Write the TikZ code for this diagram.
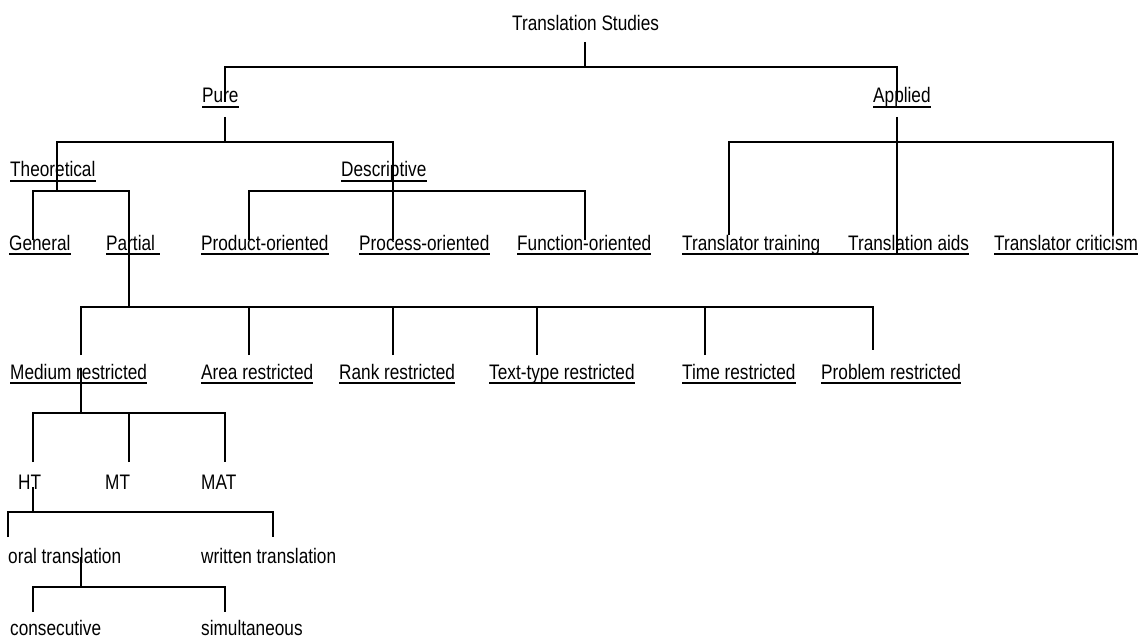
\documentclass[tikz,border=0pt]{standalone}
\usepackage{fontspec}
\setmainfont{Liberation Sans}
\usepackage{graphicx}
\newcommand\nw[1]{\scalebox{0.82}[1]{#1}}
\newcommand\ulab[1]{\draw[ul] ([yshift=-4pt]#1.base west) -- ([yshift=-4pt]#1.base east);}
\begin{document}
\begin{tikzpicture}[x=1pt,y=-1pt,
  lbl/.style={anchor=base west, inner sep=0pt, font=\fontsize{21}{25}\selectfont},
  conn/.style={line width=2.5pt},
  ul/.style={line width=2pt}]
\useasboundingbox (0,0) rectangle (1145,639);
% labels
\node[lbl] (ts) at (512,31) {\nw{Translation Studies}};
\node[lbl] (pure) at (202,103) {\nw{Pure}};
\node[lbl] (applied) at (873,103) {\nw{Applied}};
\node[lbl] (theo) at (10,177) {\nw{Theoretical}};
\node[lbl] (desc) at (341,177) {\nw{Descriptive}};
\node[lbl] (gen) at (9,250) {\nw{General}};
\node[lbl] (part) at (106,250) {\nw{Partial\ }};
\node[lbl] (prod) at (201,250) {\nw{Product-oriented}};
\node[lbl] (proc) at (359,250) {\nw{Process-oriented}};
\node[lbl] (func) at (517,250) {\nw{Function-oriented}};
\node[lbl] (ttrain) at (682,250) {\nw{Translator training}};
\node[lbl] (taids) at (848,250) {\nw{Translation aids}};
\node[lbl] (tcrit) at (994,250) {\nw{Translator criticism}};
\node[lbl] (med) at (10,379) {\nw{Medium restricted}};
\node[lbl] (area) at (201,379) {\nw{Area restricted}};
\node[lbl] (rank) at (339,379) {\nw{Rank restricted}};
\node[lbl] (ttype) at (489,379) {\nw{Text-type restricted}};
\node[lbl] (time) at (682,379) {\nw{Time restricted}};
\node[lbl] (prob) at (821,379) {\nw{Problem restricted}};
\node[lbl] (ht) at (18,489) {\nw{HT}};
\node[lbl] (mt) at (105,489) {\nw{MT}};
\node[lbl] (mat) at (201,489) {\nw{MAT}};
\node[lbl] (oral) at (8,563) {\nw{oral translation}};
\node[lbl] (written) at (201,563) {\nw{written translation}};
\node[lbl] (cons) at (10,635) {\nw{consecutive}};
\node[lbl] (simul) at (201,635) {\nw{simultaneous}};
% underlines
\foreach \n in {pure,applied,theo,desc,gen,part,prod,proc,func,tcrit,med,area,rank,ttype,time,prob}{\ulab{\n}}
\draw[ul] ([yshift=-4pt]ttrain.base west) -- ([yshift=-4pt]taids.base east);
% connector end points
\coordinate (ts-o) at (585,42);
\coordinate (pure-i) at (225,102);
\coordinate (app-i) at (897,100);
\coordinate (pure-o) at (225,117);
\coordinate (theo-i) at (57,191);
\coordinate (proc-i) at (393,240);
\coordinate (gen-i) at (33,240);
\coordinate (part-x) at (129,191);
\coordinate (prod-i) at (249,240);
\coordinate (func-i) at (585,240);
\coordinate (app-o) at (897,117);
\coordinate (taids-i) at (897,253);
\coordinate (ttrain-i) at (729,235);
\coordinate (tcrit-i) at (1113,235);
\coordinate (med-i) at (81,355);
\coordinate (area-i) at (249,355);
\coordinate (rank-i) at (393,355);
\coordinate (ttype-i) at (537,355);
\coordinate (time-i) at (705,355);
\coordinate (prob-i) at (873,350);
\coordinate (med-o) at (81,368);
\coordinate (ht-i) at (33,462);
\coordinate (mt-i) at (129,462);
\coordinate (mat-i) at (225,462);
\coordinate (ht-o) at (33,487);
\coordinate (oral-i) at (8,537);
\coordinate (written-i) at (273,537);
\coordinate (oral-o) at (81,557);
\coordinate (cons-i) at (33,612);
\coordinate (simul-i) at (225,612);
% connectors
\draw[conn] (ts-o) -- ++(0,25) coordinate (b0);
\draw[conn] (pure-i) |- (b0) -| (app-i);
\draw[conn] (pure-o) -- ++(0,25) coordinate (b1);
\draw[conn] (theo-i) |- (b1) -| (proc-i);
\draw[conn] (gen-i) |- (theo-i) -- (part-x) -- ++(0,116) coordinate (b3);
\draw[conn] (prod-i) |- (func-i |- theo-i) -- (func-i);
\draw[conn] (app-o) -- (taids-i);
\draw[conn] (ttrain-i) |- (app-o |- b1) -| (tcrit-i);
\draw[conn] (med-i) |- (prob-i |- b3) -- (prob-i);
\foreach \c in {area-i,rank-i,ttype-i,time-i}{\draw[conn] (\c) -- (\c |- b3);}
\draw[conn] (med-o) -- ++(0,45) coordinate (b4);
\draw[conn] (ht-i) |- (mat-i |- b4) -- (mat-i);
\draw[conn] (mt-i) -- (mt-i |- b4);
\draw[conn] (ht-o) -- ++(0,25) coordinate (b5);
\draw[conn] (oral-i) |- (written-i |- b5) -- (written-i);
\draw[conn] (oral-o) -- ++(0,30) coordinate (b6);
\draw[conn] (cons-i) |- (simul-i |- b6) -- (simul-i);
\end{tikzpicture}
\end{document}
